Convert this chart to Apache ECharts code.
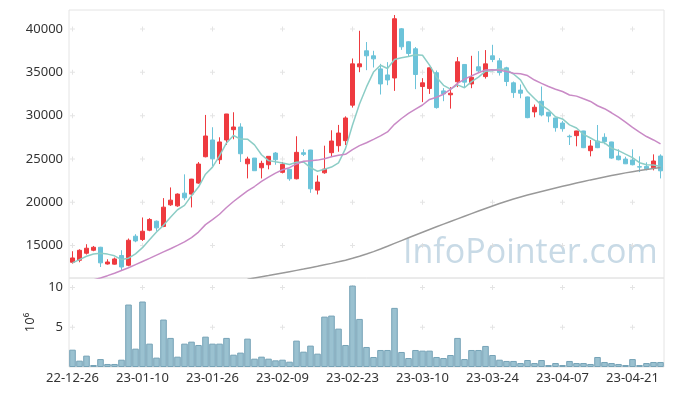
<!DOCTYPE html>
<html><head><meta charset="utf-8">
<script src="https://cdn.jsdelivr.net/npm/echarts@6/dist/echarts.min.js"></script>
<style>html,body{margin:0;padding:0;background:#fff}#c{width:673px;height:396px}</style>
</head><body><div id="c"></div>
<script>
const dates = ['22-12-26','22-12-27','22-12-28','22-12-29',
'23-01-02','23-01-03','23-01-04','23-01-05','23-01-06','23-01-09','23-01-10','23-01-11','23-01-12','23-01-13','23-01-16','23-01-17','23-01-18','23-01-19','23-01-20','23-01-25','23-01-26','23-01-27','23-01-30','23-01-31',
'23-02-01','23-02-02','23-02-03','23-02-06','23-02-07','23-02-08','23-02-09','23-02-10','23-02-13','23-02-14','23-02-15','23-02-16','23-02-17','23-02-20','23-02-21','23-02-22','23-02-23','23-02-24','23-02-27','23-02-28',
'23-03-02','23-03-03','23-03-06','23-03-07','23-03-08','23-03-09','23-03-10','23-03-13','23-03-14','23-03-15','23-03-16','23-03-17','23-03-20','23-03-21','23-03-22','23-03-23','23-03-24','23-03-27','23-03-28','23-03-29','23-03-30','23-03-31',
'23-04-03','23-04-04','23-04-05','23-04-06','23-04-07','23-04-10','23-04-11','23-04-12','23-04-13','23-04-14','23-04-17','23-04-18','23-04-19','23-04-20','23-04-21','23-04-24','23-04-25','23-04-26','23-04-27'];

const opens = [13067,13300,14110,14456,14800,12870,12850,13850,12720,16076,15700,16770,17810,17200,19700,19580,21050,20940,22210,25255,
27190,24910,27190,28380,28690,24440,25100,23980,24330,25680,23450,23800,22710,25720,26030,21400,23400,25720,26530,27110,
31210,35640,37490,36910,35400,34700,34350,40030,38530,37720,33360,33130,34960,32860,32410,33910,35910,33660,35640,34510,
36910,36330,35520,33790,32950,32160,30430,31660,30390,29730,29150,27620,27690,28230,25950,27070,27500,26960,25335,24990,
24870,24100,24140,23980,25335];
const closes = [13565,14450,14690,14800,13000,13100,13450,12520,15610,15530,16650,18010,17040,19430,20240,20940,20510,22670,24410,27650,
25020,26960,30190,28690,25600,24990,23640,24490,25300,24910,24375,22710,25760,25530,21550,22330,23830,27070,27990,29730,
35980,35980,36910,36560,33660,34120,41190,37950,37180,34750,33790,35520,30930,32510,32590,36220,33870,34430,35170,35980,
36480,34970,33940,32660,32590,29770,30970,30080,29950,28610,28490,27560,28230,26300,26490,26300,27000,25100,24910,24440,
24330,24060,23870,24760,23630];
const lows = [12917,13067,13960,14340,12520,12800,12800,12060,12604,15380,15530,16655,16690,17120,19580,19470,20240,19400,22130,25185,
24180,24410,26610,27270,24640,22750,23640,22750,23800,24330,23330,22480,22640,25335,21090,20900,23290,25220,25830,26610,
30930,35020,35250,35560,32440,33520,32860,37600,36830,33060,31560,32510,30810,31670,30810,33290,33290,33170,35020,34280,
36180,34630,33410,32050,32010,29700,29810,29920,29240,28150,28150,26610,26460,26250,25300,26250,26690,25020,24840,24410,
24260,23480,23680,23680,22750];
const highs = [14340,14570,15150,14950,14850,13414,13610,14456,15810,16308,18240,18160,17890,20475,21710,21020,23220,22700,24640,30080,
28660,27500,30200,30390,29120,25255,25100,24790,25300,25800,24640,23800,27620,26110,26050,23100,26530,28310,28930,29920,
36600,39800,38500,37490,35980,36180,41620,40120,38600,37920,34330,35550,35210,33180,33290,36760,35950,36910,37450,37570,
38180,36640,35640,33940,33600,32200,31280,33360,30450,29750,29390,27800,28250,28250,27190,28920,27960,26980,26110,25255,
26110,25300,24610,25530,25530];

const ma5 = [12990,13380,13760,14030,14101,14008,13808,13374,13536,14042,14752,15664,16568,17332,18274,19132,19632,20758,21754,23236,
24052,25342,26846,27702,27292,27286,26622,25482,24804,24666,24543,24357,24611,24657,23985,23576,23800,24062,24554,26190,
28920,31350,33318,35032,35818,35446,36488,36696,36820,37038,36972,35838,34434,33500,33068,33554,33224,33924,34456,35134,
35186,35406,35308,34806,34128,32786,31986,31214,30672,29876,29620,28938,28568,27838,27414,26976,26864,26238,25960,25550,
25156,24568,24322,24292,24130];
const ma20 = [10300,10550,10800,11030,11260,11520,11800,12110,12440,12800,13160,13520,13890,14260,14630,15010,15420,15920,16550,17413,
17986,18612,19387,20081,20711,21306,21815,22414,22898,23367,23753,23988,24424,24729,24795,24864,25030,25250,25429,25533,
26081,26532,26868,27262,27665,28121,28999,29672,30266,30758,31229,31869,32128,32477,33029,33723,34225,34593,34952,35265,
35290,35239,35091,34896,34842,34625,34114,33720,33359,33052,32787,32389,32254,31943,31638,31142,30799,30332,29819,29242,
28635,28089,27586,27191,26743];
const ma120 = [null,null,null,null,null,null,null,null,null,null,null,null,null,null,null,null,null,null,null,null,
null,null,null,null,null,11100,11250,11390,11530,11680,11830,11980,12130,12280,12440,12600,12770,12940,13120,13310,
13520,13760,14020,14300,14600,14920,15250,15570,15890,16210,16530,16850,17160,17470,17780,18080,18380,18680,18980,19280,
19570,19850,20120,20380,20610,20830,21040,21240,21440,21640,21840,22030,22220,22400,22580,22750,22920,23080,23240,23390,
23530,23660,23780,23890,24000];

// volume in millions (10^6)
const volumes = [2.18,0.80,1.43,0.25,1.00,0.38,0.38,0.92,7.86,2.31,8.24,2.94,1.18,5.97,3.66,1.30,2.94,3.19,2.77,3.82,
2.94,2.94,3.66,1.55,1.81,3.57,1.05,1.30,1.05,0.84,0.92,0.67,3.32,1.93,2.69,1.68,6.34,6.47,4.83,2.77,
10.25,6.05,2.52,1.26,2.14,2.14,7.44,1.89,1.13,2.14,2.06,2.06,1.26,1.13,1.51,3.66,1.00,2.14,2.14,2.65,
1.51,0.92,0.76,0.76,0.50,0.88,0.50,0.88,0.25,0.50,0.25,0.76,0.50,0.50,0.38,1.26,0.63,0.50,0.38,0.25,
1.00,0.25,0.50,0.63,0.63];

const priceTicks = [15000,20000,25000,30000,35000,40000];
const volTicks = [5,10];

const chart = echarts.init(document.getElementById('c'), null, {renderer:'canvas'});
const FONT = '"Noto Sans", sans-serif';
const candleData = opens.map((o,i)=>[o, closes[i], lows[i], highs[i]]);
const tickIdx = dates.map((d,i)=>i).filter(i=>i%10===0);
const crossMain = []; tickIdx.forEach(i=>priceTicks.forEach(v=>crossMain.push([i,v])));
const crossVol = []; tickIdx.forEach(i=>volTicks.forEach(v=>crossVol.push([i,v])));
const plus = 'path://M2,0h1v2h2v1h-2v2h-1v-2h-2v-1h2z';

const lbl = {fontSize:13,color:'#333',fontFamily:FONT};
const option = {
  animation:false,
  backgroundColor:'#fff',
  grid:[{left:69,width:595,top:10,height:268,show:true,borderColor:'#e4e4e4',borderWidth:1},
        {left:69,width:595,top:278,height:89,show:true,borderColor:'#e4e4e4',borderWidth:1}],
  xAxis:[{type:'category',data:dates,gridIndex:0,boundaryGap:true,axisLine:{show:false},axisTick:{show:false},axisLabel:{show:false},splitLine:{show:false}},
         {type:'category',data:dates,gridIndex:1,boundaryGap:true,axisLine:{show:false},axisTick:{show:false},
          axisLabel:Object.assign({interval:9,margin:5},lbl),splitLine:{show:false}}],
  yAxis:[{gridIndex:0,type:'value',min:11250,max:42200,axisLine:{show:false},axisTick:{show:false},splitLine:{show:false},
          axisLabel:Object.assign({margin:6,formatter:v=>priceTicks.includes(v)?String(v):''},lbl)},
         {gridIndex:1,type:'value',min:0,max:11.2,interval:5,axisLine:{show:false},axisTick:{show:false},splitLine:{show:false},
          axisLabel:Object.assign({margin:6,formatter:v=>volTicks.includes(v)?String(v):''},lbl),
          name:'10\u2076',nameLocation:'middle',nameGap:29,nameRotate:90,nameTextStyle:{fontSize:13,color:'#333',fontFamily:FONT}}],
  graphic:[{type:'text',left:403,top:236,z:1,silent:true,
            style:{text:'InfoPointer.com',font:'34px "Open Sans", sans-serif',fill:'#c8dae6'}}],
  series:[
    {type:'scatter',xAxisIndex:0,yAxisIndex:0,data:crossMain,symbol:plus,symbolSize:5,silent:true,z:1,itemStyle:{color:'#dddddd'}},
    {type:'scatter',xAxisIndex:1,yAxisIndex:1,data:crossVol,symbol:plus,symbolSize:5,silent:true,z:1,itemStyle:{color:'#dddddd'}},
    {type:'candlestick',xAxisIndex:0,yAxisIndex:0,data:candleData,barWidth:5,
     itemStyle:{color:'#ee3a3f',color0:'#6cc3d9',borderColor:'#ee3a3f',borderColor0:'#6cc3d9',borderWidth:1}},
    {type:'line',xAxisIndex:0,yAxisIndex:0,data:ma5,showSymbol:false,smooth:false,lineStyle:{width:1.5,color:'#8ccdc6'},z:3},
    {type:'line',xAxisIndex:0,yAxisIndex:0,data:ma20,showSymbol:false,smooth:false,lineStyle:{width:1.5,color:'#c98ac6'},z:3},
    {type:'line',xAxisIndex:0,yAxisIndex:0,data:ma120,showSymbol:false,smooth:false,connectNulls:false,lineStyle:{width:1.5,color:'#999999'},z:3},
    {type:'bar',xAxisIndex:1,yAxisIndex:1,data:volumes,barCategoryGap:'6%',
     itemStyle:{color:'#9ac1d0',borderColor:'#76a3b7',borderWidth:1}}
  ]
};
chart.setOption(option);
</script></body></html>
